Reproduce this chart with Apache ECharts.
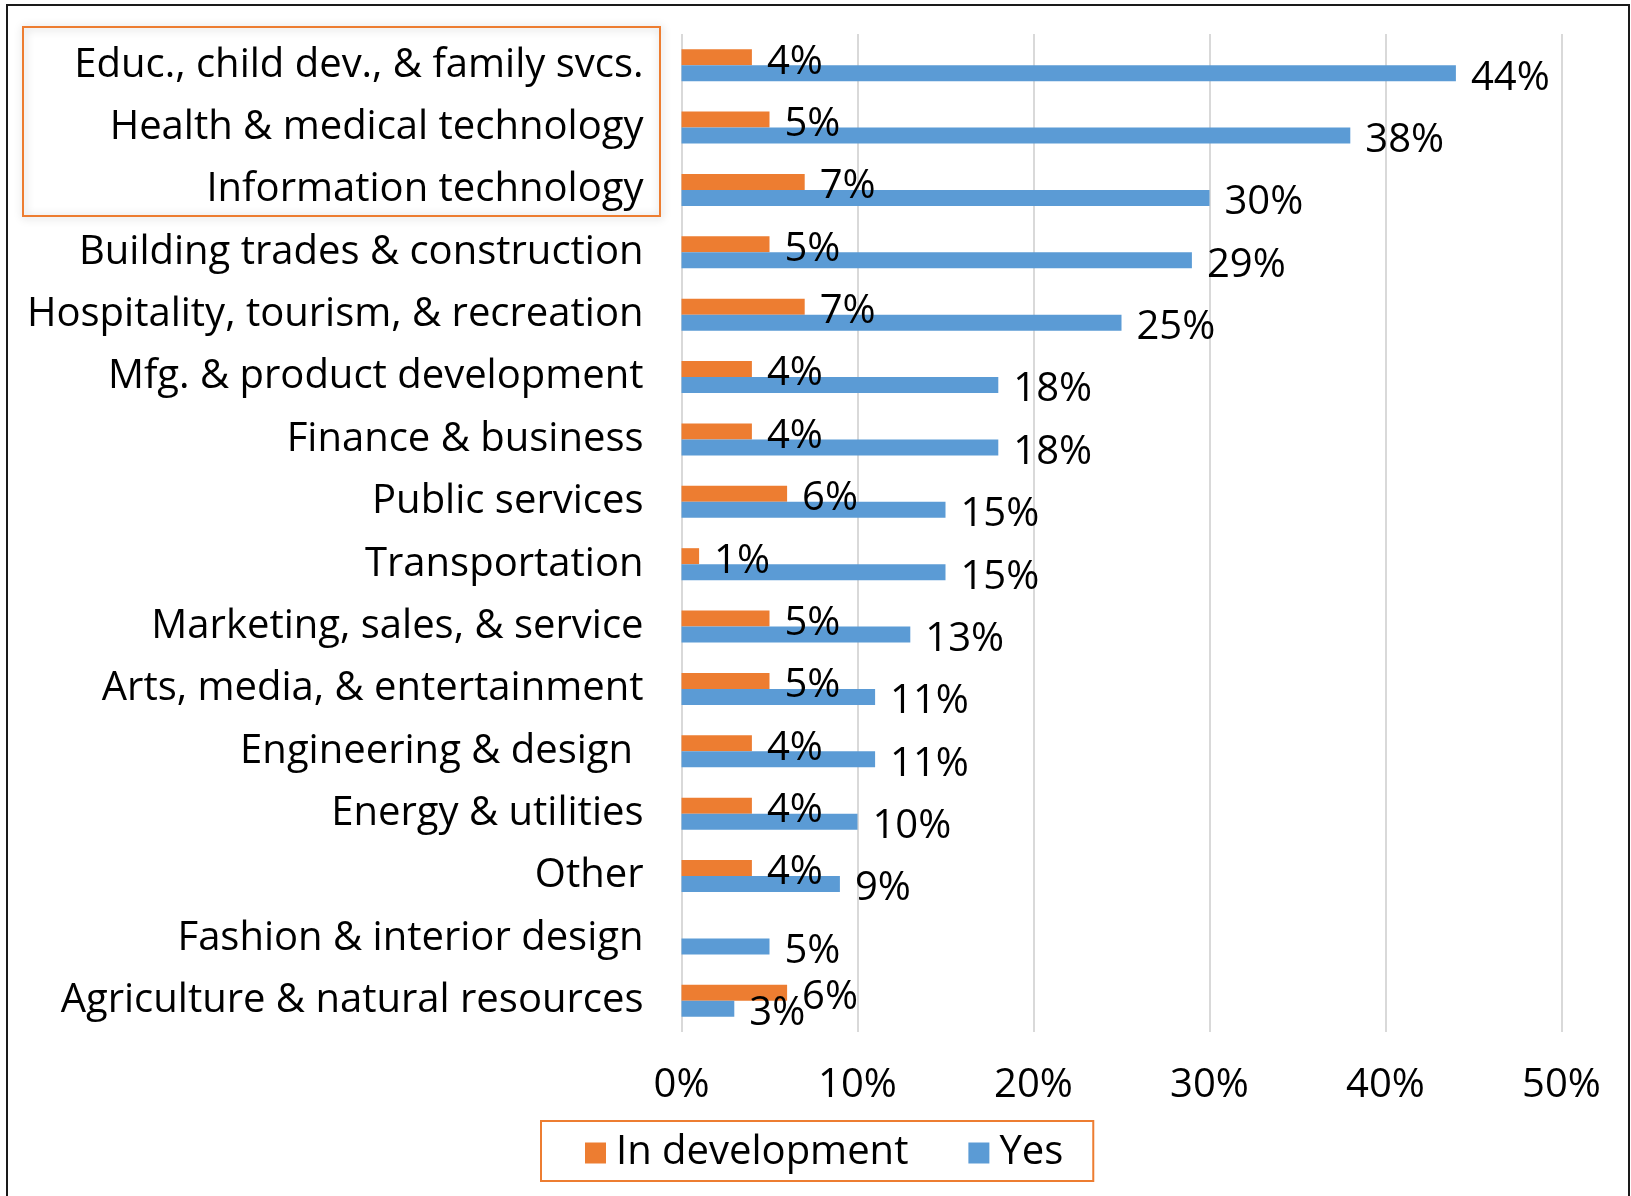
<!DOCTYPE html>
<html>
<head>
  <meta charset="utf-8">
  <script src="https://cdn.jsdelivr.net/npm/echarts@6/dist/echarts.min.js"></script>
  <style>
    html, body, #main {
      width: 100%;
      height: 100%;
      margin: 0;
      background: #fff;
    }
  </style>
</head>
<body>
<div id="main"></div>
<script>
  // categories top to bottom
  var categories = [
    'Educ., child dev., & family svcs.',
    'Health & medical technology',
    'Information technology',
    'Building trades & construction',
    'Hospitality, tourism, & recreation',
    'Mfg. & product development',
    'Finance & business',
    'Public services',
    'Transportation',
    'Marketing, sales, & service',
    'Arts, media, & entertainment',
    'Engineering & design ',
    'Energy & utilities',
    'Other',
    'Fashion & interior design',
    'Agriculture & natural resources'
  ];
  var inDevelopment = [4, 5, 7, 5, 7, 4, 4, 6, 1, 5, 5, 4, 4, 4, null, 6];
  var yes = [44, 38, 30, 29, 25, 18, 18, 15, 15, 13, 11, 11, 10, 9, 5, 3];
  var xTicks = [0, 10, 20, 30, 40, 50];

  var FONT = 'Open Sans';
  var FS = 40;
  var ORANGE = '#ED7D31';
  var BLUE = '#5B9BD5';

  var chart = echarts.init(document.getElementById('main'));

  var barLabel = {
    show: true,
    position: 'right',
    distance: 15,
    offset: [0, 5],
    color: '#000',
    fontFamily: FONT,
    fontSize: FS,
    formatter: function (p) { return p.value + '%'; }
  };

  var option = {
    animation: false,
    backgroundColor: '#fff',
    grid: { left: 681.5, right: 69.5, top: 34, bottom: 164 },
    xAxis: {
      type: 'value',
      min: xTicks[0],
      max: xTicks[xTicks.length - 1],
      interval: 10,
      axisLine: { show: false },
      axisTick: { show: false },
      splitLine: { lineStyle: { color: '#D9D9D9', width: 2 } },
      axisLabel: {
        margin: 34,
        color: '#000',
        fontFamily: FONT,
        fontSize: FS,
        formatter: '{value}%'
      }
    },
    yAxis: {
      type: 'category',
      inverse: true,
      data: categories,
      axisLine: { show: false },
      axisTick: { show: false },
      axisLabel: {
        margin: 38,
        color: '#000',
        fontFamily: FONT,
        fontSize: FS,
        padding: [4, 0, 0, 0]
      }
    },
    legend: {
      left: 541,
      top: 1121,
      itemWidth: 21,
      itemHeight: 21,
      itemGap: 60,
      padding: [12, 30, 8, 44],
      borderColor: ORANGE,
      borderWidth: 2,
      icon: 'rect',
      textStyle: { color: '#000', fontFamily: FONT, fontSize: FS, padding: [0, 0, 0, 5] },
      data: ['In development', 'Yes']
    },
    graphic: [
      {
        type: 'rect',
        shape: { x: 7, y: 5, width: 1622, height: 1210 },
        style: { fill: null, stroke: '#1a1a1a', lineWidth: 2 },
        silent: true
      },
      {
        type: 'rect',
        shape: { x: 23, y: 27, width: 637, height: 189 },
        style: {
          fill: null,
          stroke: ORANGE,
          lineWidth: 2,
          shadowBlur: 8,
          shadowColor: 'rgba(0,0,0,0.25)',
          shadowOffsetX: 1,
          shadowOffsetY: 1
        },
        silent: true
      }
    ],
    series: [
      {
        name: 'In development',
        type: 'bar',
        data: inDevelopment,
        barWidth: 16,
        barGap: '0%',
        itemStyle: { color: ORANGE },
        label: barLabel
      },
      {
        name: 'Yes',
        type: 'bar',
        data: yes,
        barWidth: 16,
        barGap: '0%',
        itemStyle: { color: BLUE },
        label: barLabel
      }
    ]
  };
  chart.setOption(option);
</script>
</body>
</html>
